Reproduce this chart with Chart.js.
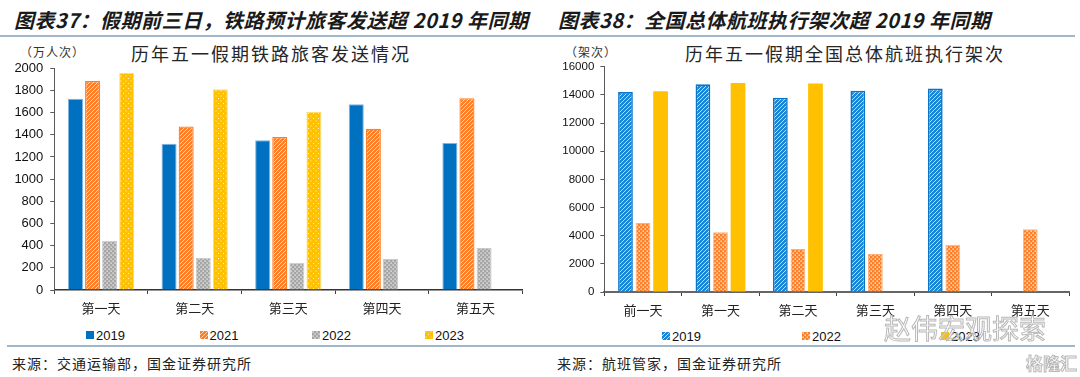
<!DOCTYPE html>
<html><head><meta charset="utf-8">
<script src="https://cdn.jsdelivr.net/npm/chart.js@4.4.0/dist/chart.umd.min.js"></script>
<style>
body{margin:0;width:1080px;height:377px;background:#fff;position:relative;overflow:hidden;font-family:"Noto Sans CJK SC",sans-serif;}
.abs{position:absolute;white-space:nowrap;}
.title{font-weight:700;font-style:italic;font-size:20px;letter-spacing:0.5px;color:#1a1a1a;top:7px;line-height:26px;}
.rule{position:absolute;height:1.5px;background:#9fb6cb;}
.sub{font-size:18px;letter-spacing:2px;color:#262626;top:41px;line-height:24px;}
.unit{font-size:12px;color:#333;top:43px;line-height:18px;letter-spacing:1px;}
.src{font-size:14px;letter-spacing:1px;color:#222;top:353px;line-height:20px;}
.leg{position:absolute;font-family:"Liberation Sans",Arial,sans-serif;font-size:13px;color:#111;display:flex;align-items:center;height:16px;}
.leg canvas{margin-right:2px;}
.cv{position:absolute;}
.wm{position:absolute;white-space:nowrap;color:rgba(255,255,255,0.2);-webkit-text-stroke:1px #b8b8b8;}
</style></head>
<body>
<div class="abs title" style="left:14px;">图表37：假期前三日，铁路预计旅客发送超 2019 年同期</div>
<div class="abs title" style="left:558px;">图表38：全国总体航班执行架次超 2019 年同期</div>
<div class="rule" style="left:0;top:35px;width:540px;"></div>
<div class="rule" style="left:540px;top:35px;width:535px;"></div>
<div class="abs unit" style="left:20px;">（万人次）</div>
<div class="abs sub" style="left:131px;">历年五一假期铁路旅客发送情况</div>
<div class="abs unit" style="left:565px;">（架次）</div>
<div class="abs sub" style="left:685px;">历年五一假期全国总体航班执行架次</div>

<canvas id="c1" class="cv" width="540" height="280" style="left:0;top:40px;"></canvas>
<canvas id="c2" class="cv" width="540" height="282" style="left:540px;top:40px;"></canvas>

<div id="legends"></div>

<div class="rule" style="left:7px;top:345px;width:533px;"></div>
<div class="rule" style="left:540px;top:345px;width:535px;"></div>
<div class="abs src" style="left:12px;">来源：交通运输部，国金证券研究所</div>
<div class="abs src" style="left:557px;">来源：航班管家，国金证券研究所</div>

<div class="wm" style="left:884px;top:308px;font-size:27px;letter-spacing:0px;">赵伟宏观探索</div>
<div class="wm" style="left:1026px;top:350px;font-size:17px;font-weight:700;">格隆汇</div>

<script>
// ---- data ----
const railDays = ['第一天','第二天','第三天','第四天','第五天'];
const rail2019 = [1725, 1320, 1350, 1675, 1325];
const rail2021 = [1885, 1475, 1380, 1455, 1730];
const rail2022 = [445, 290, 245, 280, 380];
const rail2023 = [1960, 1810, 1605, null, null];
const railYMax = 2000, railYStep = 200;

const flightDays = ['前一天','第一天','第二天','第三天','第四天','第五天'];
const flight2019 = [14200, 14750, 13800, 14300, 14450, null];
const flight2022 = [4900, 4250, 3050, 2700, 3350, 4450];
const flight2023 = [14250, 14850, 14800, null, null, null];
const flightYMax = 16000, flightYStep = 2000;

// ---- patterns ----
function tile(n, draw){const c=document.createElement('canvas');c.width=n;c.height=n;const x=c.getContext('2d');draw(x,n);return x.createPattern(c,'repeat');}
function hatch(bg, fg, n, lw){return tile(n,(x,n)=>{x.fillStyle=bg;x.fillRect(0,0,n,n);x.strokeStyle=fg;x.lineWidth=lw;x.beginPath();for(const k of [-1,0,1]){x.moveTo(k*n,n);x.lineTo(k*n+n,0);}x.stroke();});}
function dots(bg, fg, n, r){return tile(n,(x,n)=>{x.fillStyle=bg;x.fillRect(0,0,n,n);x.fillStyle=fg;x.fillRect(0.5,0.5,r,r);x.fillRect(n/2+0.5,n/2+0.5,r,r);});}

const BLUE='#0070C0', ORANGE='#FF7F27', GRAY='#A6A6A6', YELLOW='#FFC000';

const railSets = [
  {label:'2019', data:rail2019, backgroundColor:BLUE, borderColor:'#7fb4de', borderWidth:1},
  {label:'2021', data:rail2021, backgroundColor:hatch(ORANGE,'#ffe6d4',4,0.8), borderColor:ORANGE, borderWidth:1.3},
  {label:'2022', data:rail2022, backgroundColor:dots(GRAY,'#ffffff',4,1.2), borderColor:'#c9c9c9', borderWidth:1},
  {label:'2023', data:rail2023, backgroundColor:dots(YELLOW,'#fff4c0',5,1), borderColor:'#ffdc70', borderWidth:1}
];
const flightSets = [
  {label:'2019', data:flight2019, backgroundColor:hatch('#1a86d6','#e6f2fb',4,0.8), borderColor:'#0A74C8', borderWidth:1.6},
  {label:'2022', data:flight2022, backgroundColor:dots(ORANGE,'#ffffff',4,1.3), borderColor:'#ffb07a', borderWidth:1},
  {label:'2023', data:flight2023, backgroundColor:YELLOW, borderColor:'#ffd24d', borderWidth:0}
];

function makeChart(id, labels, sets, o){
  return new Chart(document.getElementById(id), {
    type:'bar',
    data:{labels, datasets:sets},
    options:{
      responsive:false, animation:false, devicePixelRatio:1,
      layout:{padding:{top:o.top,left:0,right:o.right,bottom:0}},
      plugins:{legend:{display:false}, tooltip:{enabled:false}, title:{display:false}},
      datasets:{bar:{categoryPercentage:o.cp, barPercentage:o.bp}},
      scales:{
        x:{
          grid:{offset:true, drawOnChartArea:false, drawTicks:true, tickLength:4, color:'#404040', lineWidth:1},
          border:{color:o.xAxisColor, width:o.xAxisWidth},
          ticks:{color:'#222', padding:6, font:{family:'"Noto Sans CJK SC"', size:13}, maxRotation:0},
          afterFit:s=>{s.height=30;}
        },
        y:{
          min:0, max:o.ymax,
          ticks:{stepSize:o.step, color:'#111', padding:o.tpad, font:{family:'"Liberation Sans", Arial', size:o.yfs}, callback:v=>String(v)},
          grid:{drawOnChartArea:false, drawTicks:true, tickLength:4, color:'#595959'},
          border:{color:'#595959', width:1},
          afterFit:s=>{s.width=o.yw;}
        }
      }
    }
  });
}

makeChart('c1', railDays, railSets, {top:28.3, right:17.7, cp:0.73, bp:0.88, ymax:railYMax, step:railYStep, yfs:13, tpad:7, yw:54.3, xAxisColor:'#333', xAxisWidth:1.5});
makeChart('c2', flightDays, flightSets, {top:26.7, right:11, cp:0.68, bp:0.84, ymax:flightYMax, step:flightYStep, yfs:11.5, tpad:6, yw:64.3, xAxisColor:'#666', xAxisWidth:2});

// ---- legends (HTML, boxes filled with each dataset's own fill) ----
function legend(sets, xs, cy){
  const host=document.getElementById('legends');
  sets.forEach((d,i)=>{
    const item=document.createElement('div');item.className='leg';
    item.style.left=xs[i]+'px';item.style.top=(cy-8)+'px';
    const b=document.createElement('canvas');b.width=8;b.height=8;
    const g=b.getContext('2d');g.fillStyle=d.backgroundColor;g.fillRect(0,0,8,8);
    item.appendChild(b);
    const t=document.createElement('span');t.textContent=d.label;item.appendChild(t);
    host.appendChild(item);
  });
}
legend(railSets, [86, 199.5, 312, 425], 335);
legend(flightSets, [662, 802, 941], 336);
</script>
</body></html>
